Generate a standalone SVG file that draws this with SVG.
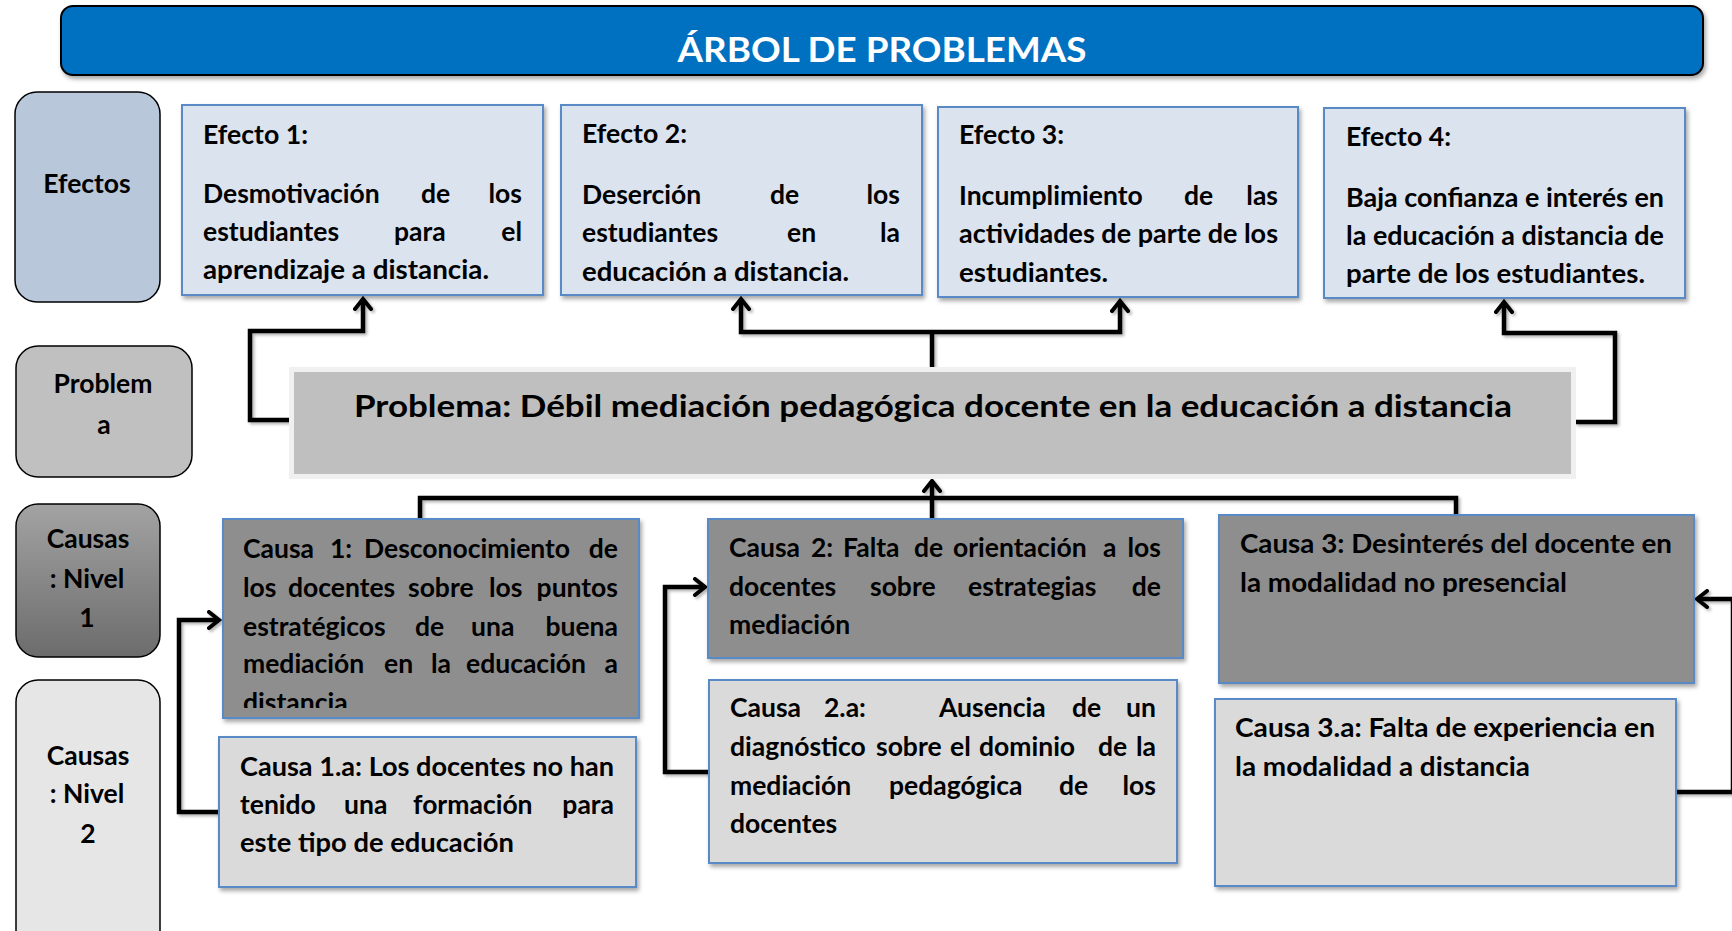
<svg xmlns="http://www.w3.org/2000/svg" width="1732" height="931" viewBox="0 0 1732 931">
<defs>
<style>
.t{font-family:Lato,"Open Sans","Liberation Sans",sans-serif;font-weight:700;font-size:26.5px;fill:#000}
.lbl{text-anchor:middle}
.e{text-anchor:end}
.box-e{fill:#DBE3EE;stroke:#5A8AC6;stroke-width:2}
.box-c{fill:#8E8E8E;stroke:#5A8AC6;stroke-width:2}
.box-ca{fill:#DADADA;stroke:#5A8AC6;stroke-width:2}
.side{stroke:#000;stroke-width:1.5}
.con{fill:none;stroke:#000;stroke-width:4.5;stroke-linejoin:miter}
</style>
<filter id="sh" x="-5%" y="-5%" width="115%" height="120%">
<feDropShadow dx="2" dy="3" stdDeviation="2" flood-color="#000" flood-opacity="0.35"/>
</filter>
<filter id="lsh" filterUnits="userSpaceOnUse" x="0" y="0" width="1732" height="931">
<feDropShadow dx="2" dy="2" stdDeviation="1.5" flood-color="#000" flood-opacity="0.3"/>
</filter>
<linearGradient id="g1" x1="0" y1="0" x2="0" y2="1">
<stop offset="0" stop-color="#A3A3A3"/>
<stop offset="1" stop-color="#6C6C6C"/>
</linearGradient>
<marker id="ah" viewBox="0 0 20 20" refX="15" refY="10" markerWidth="20" markerHeight="20" markerUnits="userSpaceOnUse" orient="auto">
<path d="M5,2 L15,10 L5,18" fill="none" stroke="#000" stroke-width="4" stroke-linejoin="miter" stroke-linecap="round"/>
</marker>
<clipPath id="c1clip"><rect x="223" y="519" width="416" height="189"/></clipPath>
</defs>
<rect width="1732" height="931" fill="#fff"/>

<g id="header">
<rect x="61" y="6" width="1642" height="69" rx="12" fill="#0070C0" stroke="#000" stroke-width="2" filter="url(#sh)"/>
<text class="t lbl" x="882" y="62" style="font-size:34px;fill:#fff" textLength="409" lengthAdjust="spacingAndGlyphs">ÁRBOL DE PROBLEMAS</text>
</g>

<g id="connectors" filter="url(#lsh)">
<path class="con" marker-end="url(#ah)" d="M294,420 H250 V331 H363 V299"/>
<path class="con" d="M932,370 V332"/>
<path class="con" marker-end="url(#ah)" d="M932,332 H741 V299"/>
<path class="con" marker-end="url(#ah)" d="M932,332 H1120 V301"/>
<path class="con" marker-end="url(#ah)" d="M1575,422 H1615 V333 H1504 V302"/>
<path class="con" d="M420,519 V498 H1456 V515"/>
<path class="con" marker-end="url(#ah)" d="M932,519 V481"/>
<path class="con" marker-end="url(#ah)" d="M219,812 H179 V620 H219"/>
<path class="con" marker-end="url(#ah)" d="M709,772 H665 V587 H705"/>
<path class="con" marker-end="url(#ah)" d="M1676,792 H1733 V599 H1697"/>
</g>

<g id="lbl-efectos">
<rect x="15" y="92" width="145" height="210" rx="22" fill="#B9C7DB" class="side"/>
<text class="t lbl" x="87" y="193">Efectos</text>
</g>
<g id="lbl-problema">
<rect x="16" y="346" width="176" height="131" rx="22" fill="#C0C0C0" class="side"/>
<text class="t lbl" x="103" y="393">Problem</text>
<text class="t lbl" x="104" y="434">a</text>
</g>
<g id="lbl-causas1">
<rect x="16" y="504" width="144" height="153" rx="22" fill="url(#g1)" class="side"/>
<text class="t lbl" x="88" y="548">Causas</text>
<text class="t lbl" x="87" y="588">: Nivel</text>
<text class="t lbl" x="87" y="627">1</text>
</g>
<g id="lbl-causas2">
<rect x="16" y="680" width="144" height="275" rx="22" fill="#E6E6E6" class="side"/>
<text class="t lbl" x="88" y="765">Causas</text>
<text class="t lbl" x="87" y="803">: Nivel</text>
<text class="t lbl" x="88" y="843">2</text>
</g>

<g id="efecto1">
<rect x="182" y="105" width="361" height="190" class="box-e" filter="url(#sh)"/>
<text class="t" x="203" y="144" textLength="105" lengthAdjust="spacingAndGlyphs">Efecto 1:</text>
<text class="t" y="203"><tspan x="203">Desmotivación</tspan><tspan x="421">de</tspan><tspan x="522" class="e">los</tspan></text>
<text class="t" y="241"><tspan x="203">estudiantes</tspan><tspan x="394">para</tspan><tspan x="522" class="e">el</tspan></text>
<text class="t" x="203" y="279" textLength="286" lengthAdjust="spacingAndGlyphs">aprendizaje a distancia.</text>
</g>

<g id="efecto2">
<rect x="561" y="105" width="361" height="190" class="box-e" filter="url(#sh)"/>
<text class="t" x="582" y="143" textLength="105" lengthAdjust="spacingAndGlyphs">Efecto 2:</text>
<text class="t" y="204"><tspan x="582">Deserción</tspan><tspan x="770">de</tspan><tspan x="900" class="e">los</tspan></text>
<text class="t" y="242"><tspan x="582">estudiantes</tspan><tspan x="787">en</tspan><tspan x="900" class="e">la</tspan></text>
<text class="t" x="582" y="281" textLength="267" lengthAdjust="spacingAndGlyphs">educación a distancia.</text>
</g>

<g id="efecto3">
<rect x="938" y="107" width="360" height="190" class="box-e" filter="url(#sh)"/>
<text class="t" x="959" y="144" textLength="105" lengthAdjust="spacingAndGlyphs">Efecto 3:</text>
<text class="t" y="205"><tspan x="959">Incumplimiento</tspan><tspan x="1184">de</tspan><tspan x="1278" class="e">las</tspan></text>
<text class="t" x="959" y="243" textLength="319" lengthAdjust="spacingAndGlyphs">actividades de parte de los</text>
<text class="t" x="959" y="282" textLength="149" lengthAdjust="spacingAndGlyphs">estudiantes.</text>
</g>

<g id="efecto4">
<rect x="1324" y="108" width="361" height="190" class="box-e" filter="url(#sh)"/>
<text class="t" x="1346" y="146" textLength="105" lengthAdjust="spacingAndGlyphs">Efecto 4:</text>
<text class="t" x="1346" y="207" textLength="318" lengthAdjust="spacingAndGlyphs">Baja confianza e interés en</text>
<text class="t" x="1346" y="245" textLength="318" lengthAdjust="spacingAndGlyphs">la educación a distancia de</text>
<text class="t" x="1346" y="283" textLength="299" lengthAdjust="spacingAndGlyphs">parte de los estudiantes.</text>
</g>

<g id="problema">
<rect x="289" y="367" width="1287" height="112" fill="#F0F0F0"/>
<rect x="294" y="372" width="1277" height="102" fill="#BFBFBF"/>
<text class="t" x="354" y="417" style="font-size:29.5px" textLength="1158" lengthAdjust="spacingAndGlyphs">Problema: Débil mediación pedagógica docente en la educación a distancia</text>
</g>

<g id="causa1">
<rect x="223" y="519" width="416" height="199" class="box-c" filter="url(#sh)"/>
<g clip-path="url(#c1clip)">
<text class="t" y="558"><tspan x="243">Causa</tspan><tspan x="330">1:</tspan><tspan x="364">Desconocimiento</tspan><tspan x="618" class="e">de</tspan></text>
<text class="t" y="597"><tspan x="243">los</tspan><tspan x="288">docentes</tspan><tspan x="408">sobre</tspan><tspan x="489">los</tspan><tspan x="618" class="e">puntos</tspan></text>
<text class="t" y="636"><tspan x="243">estratégicos</tspan><tspan x="415">de</tspan><tspan x="471">una</tspan><tspan x="618" class="e">buena</tspan></text>
<text class="t" y="673"><tspan x="243">mediación</tspan><tspan x="384">en</tspan><tspan x="431">la</tspan><tspan x="466">educación</tspan><tspan x="618" class="e">a</tspan></text>
<text class="t" x="243" y="712">distancia.</text>
</g>
</g>

<g id="causa1a">
<rect x="219" y="737" width="417" height="150" class="box-ca" filter="url(#sh)"/>
<text class="t" x="240" y="776" textLength="374" lengthAdjust="spacingAndGlyphs">Causa 1.a: Los docentes no han</text>
<text class="t" y="814"><tspan x="240">tenido</tspan><tspan x="344">una</tspan><tspan x="413">formación</tspan><tspan x="614" class="e">para</tspan></text>
<text class="t" x="240" y="852" textLength="274" lengthAdjust="spacingAndGlyphs">este tipo de educación</text>
</g>

<g id="causa2">
<rect x="708" y="519" width="475" height="139" class="box-c" filter="url(#sh)"/>
<text class="t" y="557"><tspan x="729">Causa</tspan><tspan x="811">2:</tspan><tspan x="843">Falta</tspan><tspan x="914">de</tspan><tspan x="953">orientación</tspan><tspan x="1103">a</tspan><tspan x="1161" class="e">los</tspan></text>
<text class="t" y="596"><tspan x="729">docentes</tspan><tspan x="870">sobre</tspan><tspan x="968">estrategias</tspan><tspan x="1161" class="e">de</tspan></text>
<text class="t" x="729" y="634">mediación</text>
</g>

<g id="causa2a">
<rect x="709" y="680" width="468" height="183" class="box-ca" filter="url(#sh)"/>
<text class="t" y="717"><tspan x="730">Causa</tspan><tspan x="824">2.a:</tspan><tspan x="939">Ausencia</tspan><tspan x="1072">de</tspan><tspan x="1156" class="e">un</tspan></text>
<text class="t" y="756"><tspan x="730">diagnóstico</tspan><tspan x="876">sobre</tspan><tspan x="950">el</tspan><tspan x="979">dominio</tspan><tspan x="1098">de</tspan><tspan x="1156" class="e">la</tspan></text>
<text class="t" y="795"><tspan x="730">mediación</tspan><tspan x="889">pedagógica</tspan><tspan x="1059">de</tspan><tspan x="1156" class="e">los</tspan></text>
<text class="t" x="730" y="833">docentes</text>
</g>

<g id="causa3">
<rect x="1219" y="515" width="475" height="168" class="box-c" filter="url(#sh)"/>
<text class="t" x="1240" y="553" textLength="432" lengthAdjust="spacingAndGlyphs">Causa 3: Desinterés del docente en</text>
<text class="t" x="1240" y="592" textLength="327" lengthAdjust="spacingAndGlyphs">la modalidad no presencial</text>
</g>

<g id="causa3a">
<rect x="1215" y="699" width="461" height="187" class="box-ca" filter="url(#sh)"/>
<text class="t" x="1235" y="737" textLength="420" lengthAdjust="spacingAndGlyphs">Causa 3.a: Falta de experiencia en</text>
<text class="t" x="1235" y="776" textLength="295" lengthAdjust="spacingAndGlyphs">la modalidad a distancia</text>
</g>
</svg>
